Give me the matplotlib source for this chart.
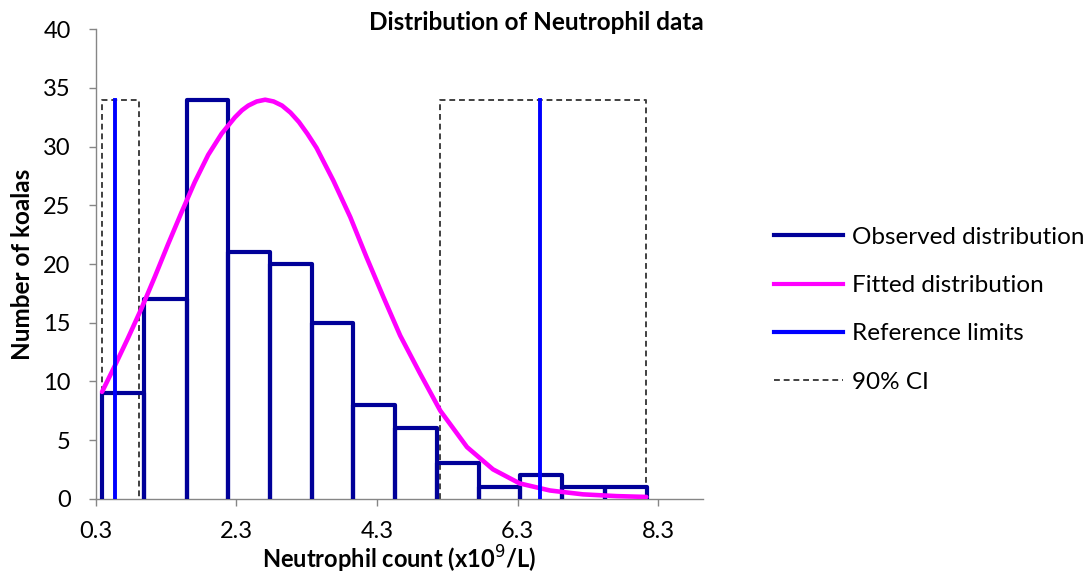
import numpy as np
import matplotlib
matplotlib.use("Agg")
import matplotlib.pyplot as plt
from matplotlib.lines import Line2D

plt.rcParams['font.family'] = ['Lato', 'DejaVu Sans']

# histogram (observed distribution)
bin_edges = [0.394, 0.991, 1.594, 2.185, 2.778, 3.371, 3.963, 4.556, 5.157,
             5.754, 6.33, 6.934, 7.541, 8.134]
counts = [9, 17, 34, 21, 20, 15, 8, 6, 3, 1, 2, 1, 1]

# fitted curve
fit_x = [0.39, 0.57, 0.76, 0.95, 1.14, 1.33, 1.52, 1.71, 1.90, 2.09, 2.28, 2.38,
         2.47, 2.59, 2.71, 2.83, 2.95, 3.07, 3.19, 3.31, 3.44, 3.68, 3.92, 4.15,
         4.39, 4.63, 4.91, 5.20, 5.58, 5.95, 6.33, 6.76, 7.23, 7.71, 8.13]
fit_y = [9.1, 11.3, 13.7, 16.2, 18.9, 21.7, 24.4, 27.0, 29.3, 31.1, 32.5, 33.1,
         33.5, 33.85, 34.0, 33.85, 33.5, 32.9, 32.1, 31.1, 29.9, 27.1, 24.0, 20.6,
         17.2, 13.9, 10.7, 7.5, 4.4, 2.5, 1.3, 0.7, 0.37, 0.22, 0.15]

ref_limits = [0.57, 6.62]
ci_lower = [0.394, 0.911]
ci_upper = [5.195, 8.12]
line_top = 34

xticks = [0.3, 2.3, 4.3, 6.3, 8.3]

navy = '#000099'
magenta = '#FF00FF'
blue = '#0000FF'
grey = '#404040'

fig = plt.figure(figsize=(10.9, 5.77), dpi=100)
ax = fig.add_axes([0.0878, 0.1357, 0.5574, 0.8135])

# observed: outline of each bin, no bottom edge
hx, hy = [], []
for i, c in enumerate(counts):
    hx += [bin_edges[i], bin_edges[i], bin_edges[i + 1], bin_edges[i + 1]]
    hy += [0, c, c, 0]
ax.plot(hx, hy, color=navy, lw=3.0, solid_joinstyle='round', zorder=3)

# CI boxes
for lo, hi in (ci_lower, ci_upper):
    ax.plot([lo, lo, hi, hi], [0, line_top, line_top, 0], color=grey, lw=1.4,
            ls=(0, (3, 2)), zorder=2)

# fitted curve
ax.plot(fit_x, fit_y, color=magenta, lw=3.3, solid_joinstyle='round',
        solid_capstyle='round', zorder=4)

# reference limits
for r in ref_limits:
    ax.plot([r, r], [0, line_top], color=blue, lw=2.8, zorder=5)

ax.set_xlim(0.3, 8.94)
ax.set_ylim(0, 40)
ax.set_xticks(xticks)
ax.set_xticklabels([f'{t:.1f}' for t in xticks])
ax.set_yticks(range(0, 41, 5))
ax.tick_params(axis='both', labelsize=17, color='#868686', length=5, width=1)
ax.tick_params(axis='x', pad=11)
ax.tick_params(axis='y', pad=13)
for s in ('top', 'right'):
    ax.spines[s].set_visible(False)
for s in ('left', 'bottom'):
    ax.spines[s].set_color('#868686')
    ax.spines[s].set_linewidth(1)

ax.set_xlabel('Neutrophil count (x10$^9$/L)', fontsize=17, fontweight='bold')
ax.xaxis.label.set_va('center')
ax.xaxis.set_label_coords(0.5, -0.130)
ax.set_ylabel('Number of koalas', fontsize=17.5, fontweight='bold')
ax.yaxis.label.set_va('center')
ax.yaxis.set_label_coords(-0.121, 0.5)
fig.text(536 / 1090, 1 - 22 / 577, 'Distribution of Neutrophil data', ha='center',
         va='center', fontsize=17.5, fontweight='bold')

handles = [Line2D([], [], color=navy, lw=3.0),
           Line2D([], [], color=magenta, lw=3.0),
           Line2D([], [], color=blue, lw=3.0),
           Line2D([], [], color=grey, lw=1.4, ls=(0, (3, 2)))]
labels = ['Observed distribution', 'Fitted distribution', 'Reference limits', '90% CI']
fig.legend(handles, labels, loc='center left', bbox_to_anchor=(0.690, 0.463),
           frameon=False, fontsize=17.5, handlelength=2.84, handletextpad=0.37,
           labelspacing=1.12)

fig.savefig('out.png', dpi=100)
